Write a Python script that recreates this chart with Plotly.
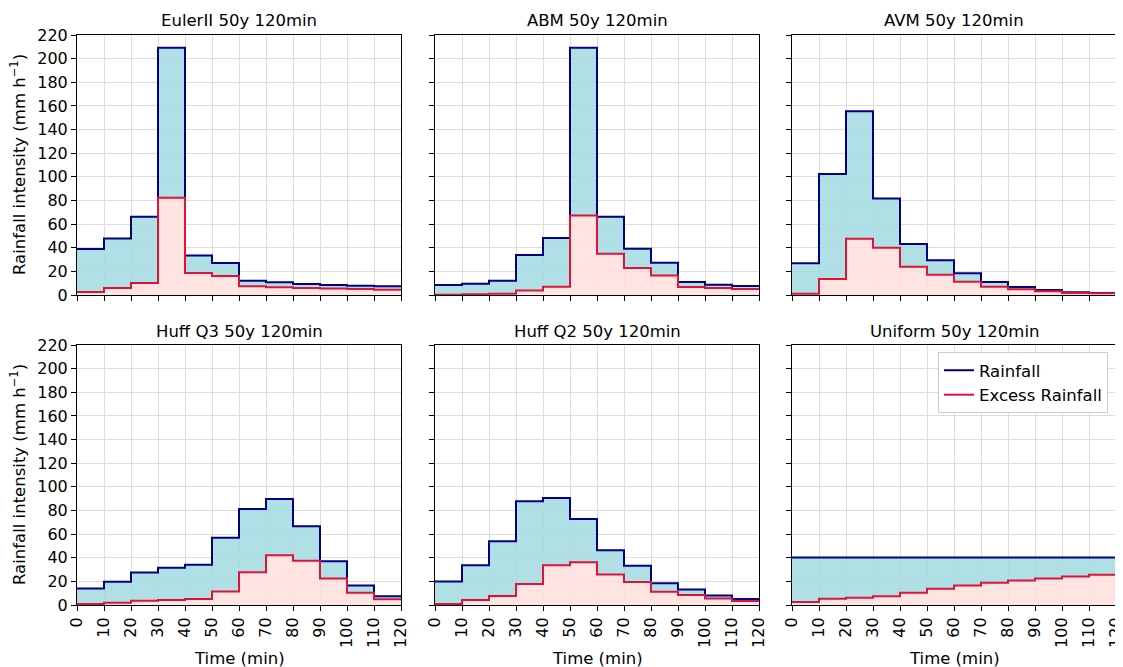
import plotly.graph_objects as go

time = [0, 10, 20, 30, 40, 50, 60, 70, 80, 90, 100, 110, 120]
x_ticks = list(range(0, 130, 10))
y_ticks = list(range(0, 240, 20))

titles = ["EulerII 50y 120min", "ABM 50y 120min", "AVM 50y 120min",
          "Huff Q3 50y 120min", "Huff Q2 50y 120min", "Uniform 50y 120min"]

euler_rain = [38.9, 47.9, 66.2, 209.3, 33.5, 27.0, 12.1, 10.7, 9.3, 8.5, 7.9, 7.3]
euler_excess = [2.5, 5.9, 10.1, 82.3, 18.6, 16.0, 7.3, 6.5, 5.9, 5.4, 5.1, 4.5]

abm_rain = [8.5, 9.6, 12.1, 33.8, 48.2, 209.3, 66.2, 39.2, 27.3, 11.0, 8.7, 7.6]
abm_excess = [0.3, 0.6, 1.1, 3.9, 7.0, 67.3, 34.9, 22.8, 16.6, 6.8, 5.9, 5.1]

avm_rain = [26.8, 102.3, 155.5, 81.7, 43.1, 29.3, 18.3, 11.0, 6.8, 4.2, 2.3, 1.7]
avm_excess = [1.1, 13.5, 47.6, 40.0, 23.9, 17.2, 11.3, 7.0, 4.8, 3.1, 1.7, 1.4]

huffq3_rain = [14.0, 19.7, 27.5, 31.5, 34.0, 57.0, 81.2, 89.6, 66.6, 37.1, 16.6, 7.3]
huffq3_excess = [0.8, 2.0, 3.7, 4.2, 5.1, 11.5, 27.8, 42.1, 37.4, 22.5, 10.4, 4.8]

huffq2_rain = [19.9, 33.7, 53.9, 87.7, 90.5, 72.8, 46.4, 33.2, 18.3, 13.2, 8.1, 5.1]
huffq2_excess = [0.8, 4.2, 7.6, 17.7, 33.7, 36.2, 25.8, 19.4, 11.2, 8.4, 5.6, 3.4]

uniform_rain = [40.2, 40.2, 40.2, 40.2, 40.2, 40.2, 40.2, 40.2, 40.2, 40.2, 40.2, 40.2]
uniform_excess = [2.5, 5.3, 6.2, 7.3, 10.4, 13.8, 16.6, 18.8, 20.8, 22.5, 24.2, 25.6]

rain_series = [euler_rain, abm_rain, avm_rain, huffq3_rain, huffq2_rain, uniform_rain]
excess_series = [euler_excess, abm_excess, avm_excess, huffq3_excess, huffq2_excess, uniform_excess]

# page is 1123x667; the figure div sits at an 8px body margin
OFF = 8
W, H = 1123 - OFF, 667 - OFF
FONT = "DejaVu Sans"
FS = 16.5
TFS = 16

RAIN_LINE = "#000080"
EXC_LINE = "#dc143c"
RAIN_FILL = "rgba(162,218,226,0.85)"
EXC_FILL = "rgba(255,223,220,0.85)"

col_px = [(77, 401), (435, 759), (792, 1116)]
row_px = [(35, 295), (345, 605)]


def px_x(p):
    return (p - OFF) / W


def px_y(p):
    return 1 - (p - OFF) / H


fig = go.Figure()

for i in range(6):
    r, c = divmod(i, 3)
    n = i + 1
    xa = "x" if n == 1 else f"x{n}"
    ya = "y" if n == 1 else f"y{n}"
    xs = time
    rain = rain_series[i] + [rain_series[i][-1]]
    exc = excess_series[i] + [excess_series[i][-1]]
    fig.add_trace(go.Scatter(x=xs, y=exc, mode="lines", line=dict(width=0, shape="hv"),
                             fill="tozeroy", fillcolor=EXC_FILL, showlegend=False,
                             hoverinfo="skip", xaxis=xa, yaxis=ya))
    fig.add_trace(go.Scatter(x=xs, y=rain, mode="lines", line=dict(width=0, shape="hv"),
                             fill="tonexty", fillcolor=RAIN_FILL, showlegend=False,
                             hoverinfo="skip", xaxis=xa, yaxis=ya))
    fig.add_trace(go.Scatter(x=xs, y=rain, mode="lines",
                             line=dict(color=RAIN_LINE, width=2, shape="hv"),
                             showlegend=False, name="Rainfall", xaxis=xa, yaxis=ya))
    fig.add_trace(go.Scatter(x=xs, y=exc, mode="lines",
                             line=dict(color=EXC_LINE, width=2, shape="hv"),
                             showlegend=False, name="Excess Rainfall", xaxis=xa, yaxis=ya))

    x0, x1 = col_px[c]
    y0, y1 = row_px[r]
    xkey = "xaxis" if n == 1 else f"xaxis{n}"
    ykey = "yaxis" if n == 1 else f"yaxis{n}"
    fig.layout[xkey] = dict(
        domain=[px_x(x0), min(px_x(x1), 1.0)], anchor=ya, range=[0, 120], automargin=False,
        tickmode="array", tickvals=x_ticks, ticktext=[str(v) for v in x_ticks],
        showticklabels=(r == 1), tickangle=-90, ticklabeloverflow="allow",
        ticks="outside", ticklen=5, tickwidth=1, tickcolor="black",
        showline=True, linecolor="black", linewidth=1, mirror=True,
        showgrid=True, gridcolor="#dcdcdc", gridwidth=1, zeroline=False,
        tickfont=dict(family=FONT, size=TFS, color="black"),
    )
    fig.layout[ykey] = dict(
        domain=[max(px_y(y1), 0.0), px_y(y0)], anchor=xa, range=[0, 220], automargin=False,
        tickmode="array", tickvals=y_ticks, ticktext=[str(v) for v in y_ticks],
        showticklabels=(c == 0), ticklabeloverflow="allow",
        ticks="outside", ticklen=5, tickwidth=1, tickcolor="black",
        showline=True, linecolor="black", linewidth=1, mirror=True,
        showgrid=True, gridcolor="#dcdcdc", gridwidth=1, zeroline=False,
        tickfont=dict(family=FONT, size=TFS, color="black"),
    )
    fig.add_annotation(text=titles[i], xref="paper", yref="paper",
                       x=px_x((x0 + x1) / 2), y=px_y(y0 - 14),
                       showarrow=False, xanchor="center", yanchor="middle",
                       font=dict(family=FONT, size=FS, color="black"))
    if c == 0:
        fig.add_annotation(text="Rainfall intensity (mm h<sup>−1</sup>)", xref="paper", yref="paper",
                           x=px_x(18), y=px_y((y0 + y1) / 2), textangle=-90,
                           showarrow=False, xanchor="center", yanchor="middle",
                           font=dict(family=FONT, size=FS, color="black"))
    if r == 1:
        fig.add_annotation(text="Time (min)", xref="paper", yref="paper",
                           x=px_x((x0 + x1) / 2), y=px_y(658),
                           showarrow=False, xanchor="center", yanchor="middle",
                           font=dict(family=FONT, size=FS, color="black"))

fig.add_trace(go.Scatter(x=[None], y=[None], mode="lines", name="Rainfall",
                         line=dict(color=RAIN_LINE, width=2), xaxis="x6", yaxis="y6"))
fig.add_trace(go.Scatter(x=[None], y=[None], mode="lines", name="Excess Rainfall",
                         line=dict(color=EXC_LINE, width=2), xaxis="x6", yaxis="y6"))

fig.update_layout(
    width=W, height=H,
    margin=dict(l=0, r=0, t=0, b=0, autoexpand=False),
    paper_bgcolor="white", plot_bgcolor="white",
    font=dict(family=FONT, size=FS, color="black"),
    legend=dict(x=px_x(1108), y=px_y(352), xanchor="right", yanchor="top",
                bgcolor="white", bordercolor="#cccccc", borderwidth=1,
                traceorder="normal",
                font=dict(family=FONT, size=FS, color="black"),
                itemwidth=30, tracegroupgap=0),
    showlegend=True,
)

fig.write_html("out.html")
